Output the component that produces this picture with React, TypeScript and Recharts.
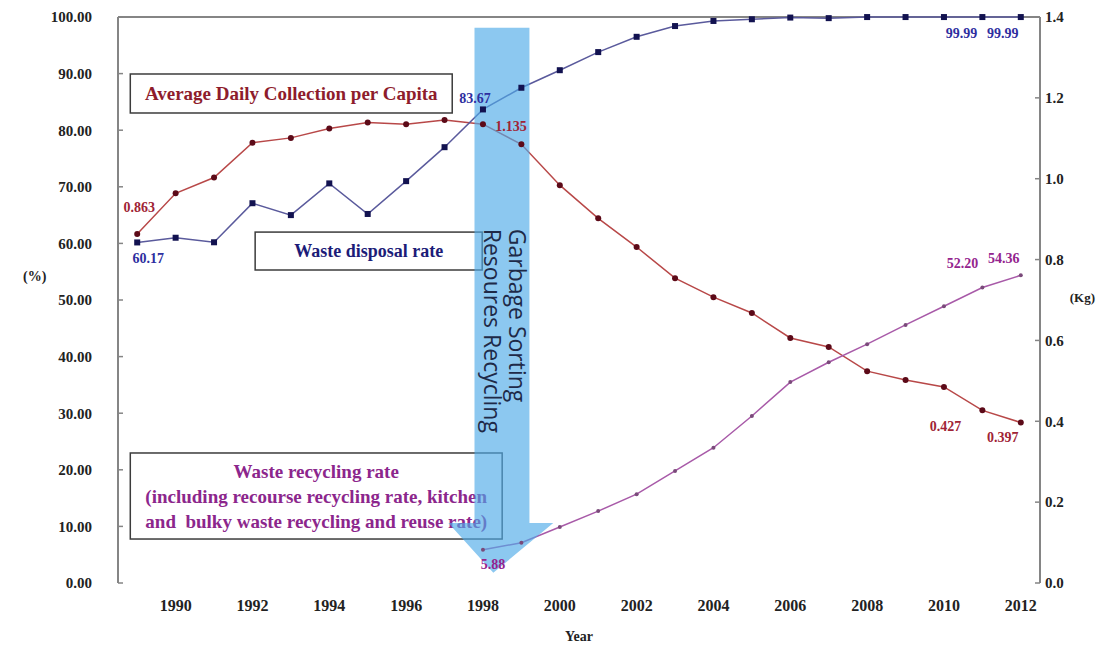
import { LabelList, Line, LineChart, ReferenceArea, ReferenceLine, XAxis, YAxis } from 'recharts';

const years = [
  1989, 1990, 1991, 1992, 1993, 1994, 1995, 1996, 1997, 1998, 1999, 2000,
  2001, 2002, 2003, 2004, 2005, 2006, 2007, 2008, 2009, 2010, 2011, 2012,
];
// Waste disposal rate (%)
const disposalRate = [
  60.17, 61.0, 60.2, 67.1, 65.0, 70.6, 65.2, 71.0, 77.0, 83.67, 87.5, 90.6,
  93.8, 96.5, 98.4, 99.3, 99.6, 99.9, 99.8, 99.99, 99.99, 99.99, 99.99, 99.99,
];
// Average daily collection per capita (kg)
const dailyPerCapita = [
  0.863, 0.964, 1.003, 1.089, 1.101, 1.124, 1.139, 1.135, 1.145, 1.135, 1.085, 0.984,
  0.902, 0.831, 0.754, 0.707, 0.668, 0.606, 0.584, 0.524, 0.502, 0.485, 0.427, 0.397,
];
// Waste recycling rate (%), reported from 1998
const recyclingRate = [
  null, null, null, null, null, null, null, null, null, 5.88, 7.1, 9.9,
  12.7, 15.7, 19.8, 23.9, 29.5, 35.5, 39.0, 42.2, 45.6, 48.9, 52.2, 54.36,
];

const yearTicks = [1990, 1992, 1994, 1996, 1998, 2000, 2002, 2004, 2006, 2008, 2010, 2012];
const pctTicks = [0, 10, 20, 30, 40, 50, 60, 70, 80, 90, 100];
const kgTicks = [0, 0.2, 0.4, 0.6, 0.8, 1.0, 1.2, 1.4];

const rows = years.map((year, i) => ({
  year,
  disposal: disposalRate[i],
  perCapita: dailyPerCapita[i],
  recycling: recyclingRate[i],
}));

// tick marks sit on the year boundaries, labels on the years
const bandEdges = years.map(y => y - 0.5).concat(years[years.length - 1] + 0.5);
const xDomain: [number, number] = [bandEdges[0], bandEdges[bandEdges.length - 1]];

const SERIF = "'Liberation Serif', 'Times New Roman', serif";
const AXIS_GRAY = '#858585';
const BLUE = '#1c1c78';
const RED = '#8e1c2c';
const PURPLE = '#8c268c';

const tickStyle = { fontSize: 15, fontFamily: SERIF, fontWeight: 'bold', fill: '#222' };
const yearTickStyle = { ...tickStyle, fontSize: 16 };

type Spot = { dx: number; dy: number };

const disposalSpots: Record<number, Spot> = {
  0: { dx: 11, dy: 16 },
  9: { dx: -8, dy: -11 },
  22: { dx: -21, dy: 16 },
  23: { dx: -18, dy: 16 },
};
const perCapitaSpots: Record<number, Spot> = {
  0: { dx: 2, dy: -27 },
  9: { dx: 28, dy: 2 },
  22: { dx: -37, dy: 16 },
  23: { dx: -18, dy: 15 },
};
const recyclingSpots: Record<number, Spot> = {
  9: { dx: 10, dy: 15 },
  22: { dx: -20, dy: -24 },
  23: { dx: -17, dy: -17 },
};

function pointLabel(spots: Record<number, Spot>, color: string, digits: number) {
  return (props: any) => {
    const spot = spots[props.index];
    if (!spot || props.value == null) return null;
    const x = props.x ?? props.viewBox?.x;
    const y = props.y ?? props.viewBox?.y;
    return (
      <text
        x={x + spot.dx}
        y={y + spot.dy}
        textAnchor="middle"
        dominantBaseline="central"
        fill={color}
        fontSize={14}
        fontFamily={SERIF}
        fontWeight="bold"
      >
        {Number(props.value).toFixed(digits)}
      </text>
    );
  };
}

const squareDot = (props: any) => {
  const { cx, cy, index } = props;
  if (cx == null || cy == null) return <g key={index} />;
  return <rect key={index} x={cx - 3} y={cy - 3} width={6} height={6} fill="#121250" />;
};

const roundDot = (props: any) => {
  const { cx, cy, index } = props;
  if (cx == null || cy == null) return <g key={index} />;
  return <circle key={index} cx={cx} cy={cy} r={3} fill="#5c0a18" />;
};

const smallDot = (props: any) => {
  const { cx, cy, index } = props;
  if (cx == null || cy == null) return <g key={index} />;
  return <circle key={index} cx={cx} cy={cy} r={2} fill="#7a4a7a" />;
};

function textBox(lines: string[], color: string, size: number, lineGap: number) {
  return (props: any) => {
    const { x, y, width, height } = props;
    const cx = x + width / 2;
    const first = y + height / 2 - ((lines.length - 1) * lineGap) / 2;
    return (
      <g>
        <rect x={x} y={y} width={width} height={height} fill="none" stroke="#3c3c3c" strokeWidth={1.5} />
        {lines.map((line, i) => (
          <text
            key={i}
            x={cx}
            y={first + i * lineGap}
            textAnchor="middle"
            dominantBaseline="central"
            fill={color}
            fontSize={size}
            fontFamily={SERIF}
            fontWeight="bold"
            style={{ whiteSpace: 'pre' }}
          >
            {line}
          </text>
        ))}
      </g>
    );
  };
}

// policy arrow, in data units
const arrowHead = { x1: 1997.1, x2: 1999.83, tip: 1998.27, top: 10.6, bottom: 1.8 };
const arrowShaft = { x1: 1997.78, x2: 1999.21, top: 98.1 };

const arrowShape = (props: any) => {
  const { x, y, width, height } = props;
  const spanX = arrowHead.x2 - arrowHead.x1;
  const spanY = arrowShaft.top - arrowHead.bottom;
  const fx = (v: number) => x + ((v - arrowHead.x1) / spanX) * width;
  const fy = (v: number) => y + ((arrowShaft.top - v) / spanY) * height;
  const sl = fx(arrowShaft.x1);
  const sr = fx(arrowShaft.x2);
  const headTop = fy(arrowHead.top);
  const pts = [
    [sl, y],
    [sr, y],
    [sr, headTop],
    [x + width, headTop],
    [fx(arrowHead.tip), y + height],
    [x, headTop],
    [sl, headTop],
  ]
    .map(p => p.join(','))
    .join(' ');
  const textX = sl + (sr - sl) * 0.63;
  const textY = y + 201;
  return (
    <g>
      <polygon points={pts} fill="#4eaae8" fillOpacity={0.65} />
      <text
        transform={`translate(${textX},${textY}) rotate(90)`}
        fontSize={23}
        fontFamily="'Open Sans', sans-serif"
        fill="#1e2a48"
      >
        <tspan x={0} dy={0}>Garbage Sorting</tspan>
        <tspan x={0} dy={25}>Resoures Recycling</tspan>
      </text>
    </g>
  );
};

export default function App() {
  return (
    <div style={{ position: 'absolute', left: 0, top: 0, background: '#fff' }}>
      <LineChart width={1113} height={652} data={rows} margin={{ top: 17, right: 13, bottom: 5, left: 18 }}>
        <XAxis
          xAxisId="frame"
          type="number"
          domain={xDomain}
          ticks={bandEdges}
          tickFormatter={() => ''}
          height={0}
          tickSize={-5}
          axisLine={{ stroke: AXIS_GRAY, strokeWidth: 2 }}
          tickLine={{ stroke: AXIS_GRAY, strokeWidth: 1.5 }}
        />
        <XAxis
          xAxisId="year"
          dataKey="year"
          type="number"
          domain={xDomain}
          ticks={yearTicks}
          axisLine={false}
          tickLine={false}
          tickMargin={11}
          height={64}
          tick={yearTickStyle}
          label={{
            content: (p: any) => (
              <text
                x={p.viewBox.x + p.viewBox.width / 2}
                y={p.viewBox.y + p.viewBox.height - 6}
                textAnchor="middle"
                fontSize={14}
                fontFamily={SERIF}
                fontWeight="bold"
                fill="#222"
              >
                Year
              </text>
            ),
          }}
        />
        <YAxis
          yAxisId="pct"
          domain={[0, 100]}
          ticks={pctTicks}
          tickFormatter={(v: number) => v.toFixed(2)}
          width={100}
          tickSize={-5}
          tickMargin={31}
          tick={tickStyle}
          axisLine={{ stroke: AXIS_GRAY, strokeWidth: 2 }}
          tickLine={{ stroke: AXIS_GRAY, strokeWidth: 1.5 }}
          label={{
            content: (p: any) => (
              <text
                x={p.viewBox.x + 5}
                y={p.viewBox.y + p.viewBox.height / 2 - 24}
                fontSize={14}
                fontFamily={SERIF}
                fontWeight="bold"
                fill="#222"
                dominantBaseline="central"
              >
                (%)
              </text>
            ),
          }}
        />
        <YAxis
          yAxisId="kg"
          orientation="right"
          domain={[0, 1.4]}
          ticks={kgTicks}
          tickFormatter={(v: number) => v.toFixed(1)}
          width={60}
          tickSize={-5}
          tickMargin={10}
          tick={tickStyle}
          axisLine={{ stroke: AXIS_GRAY, strokeWidth: 2 }}
          tickLine={{ stroke: AXIS_GRAY, strokeWidth: 1.5 }}
          label={{
            content: (p: any) => (
              <text
                x={p.viewBox.x + p.viewBox.width - 5}
                y={p.viewBox.y + p.viewBox.height / 2 - 3}
                textAnchor="end"
                fontSize={13}
                fontFamily={SERIF}
                fontWeight="bold"
                fill="#222"
                dominantBaseline="central"
              >
                (Kg)
              </text>
            ),
          }}
        />
        <ReferenceLine xAxisId="year" yAxisId="pct" y={100} stroke={AXIS_GRAY} strokeWidth={2} />

        <ReferenceArea
          xAxisId="year"
          yAxisId="pct"
          x1={1988.82}
          x2={1997.2}
          y1={83.04}
          y2={89.93}
          shape={textBox(['Average Daily Collection per Capita'], RED, 19, 22)}
        />
        <ReferenceArea
          xAxisId="year"
          yAxisId="pct"
          x1={1992.07}
          x2={1997.98}
          y1={55.3}
          y2={62.0}
          shape={textBox(['Waste disposal rate'], BLUE, 18, 22)}
        />
        <ReferenceArea
          xAxisId="year"
          yAxisId="pct"
          x1={1988.82}
          x2={1998.5}
          y1={7.77}
          y2={22.97}
          shape={textBox(
            [
              'Waste recycling rate',
              '(including recourse recycling rate, kitchen',
              'and  bulky waste recycling and reuse rate)',
            ],
            PURPLE,
            19,
            25,
          )}
        />

        <Line
          xAxisId="year"
          yAxisId="kg"
          dataKey="perCapita"
          stroke="#b84848"
          strokeWidth={1.5}
          dot={roundDot}
          isAnimationActive={false}
        >
          <LabelList dataKey="perCapita" content={pointLabel(perCapitaSpots, '#a02436', 3)} />
        </Line>
        <Line
          xAxisId="year"
          yAxisId="pct"
          dataKey="disposal"
          stroke="#5a5a9c"
          strokeWidth={1.5}
          dot={squareDot}
          isAnimationActive={false}
        >
          <LabelList dataKey="disposal" content={pointLabel(disposalSpots, '#2e2ea0', 2)} />
        </Line>
        <Line
          xAxisId="year"
          yAxisId="pct"
          dataKey="recycling"
          stroke="#a85aa8"
          strokeWidth={1.5}
          dot={smallDot}
          connectNulls={false}
          isAnimationActive={false}
        >
          <LabelList dataKey="recycling" content={pointLabel(recyclingSpots, '#94248e', 2)} />
        </Line>

        <ReferenceArea
          xAxisId="year"
          yAxisId="pct"
          x1={arrowHead.x1}
          x2={arrowHead.x2}
          y1={arrowHead.bottom}
          y2={arrowShaft.top}
          shape={arrowShape}
          zIndex={450}
        />
      </LineChart>
    </div>
  );
}
